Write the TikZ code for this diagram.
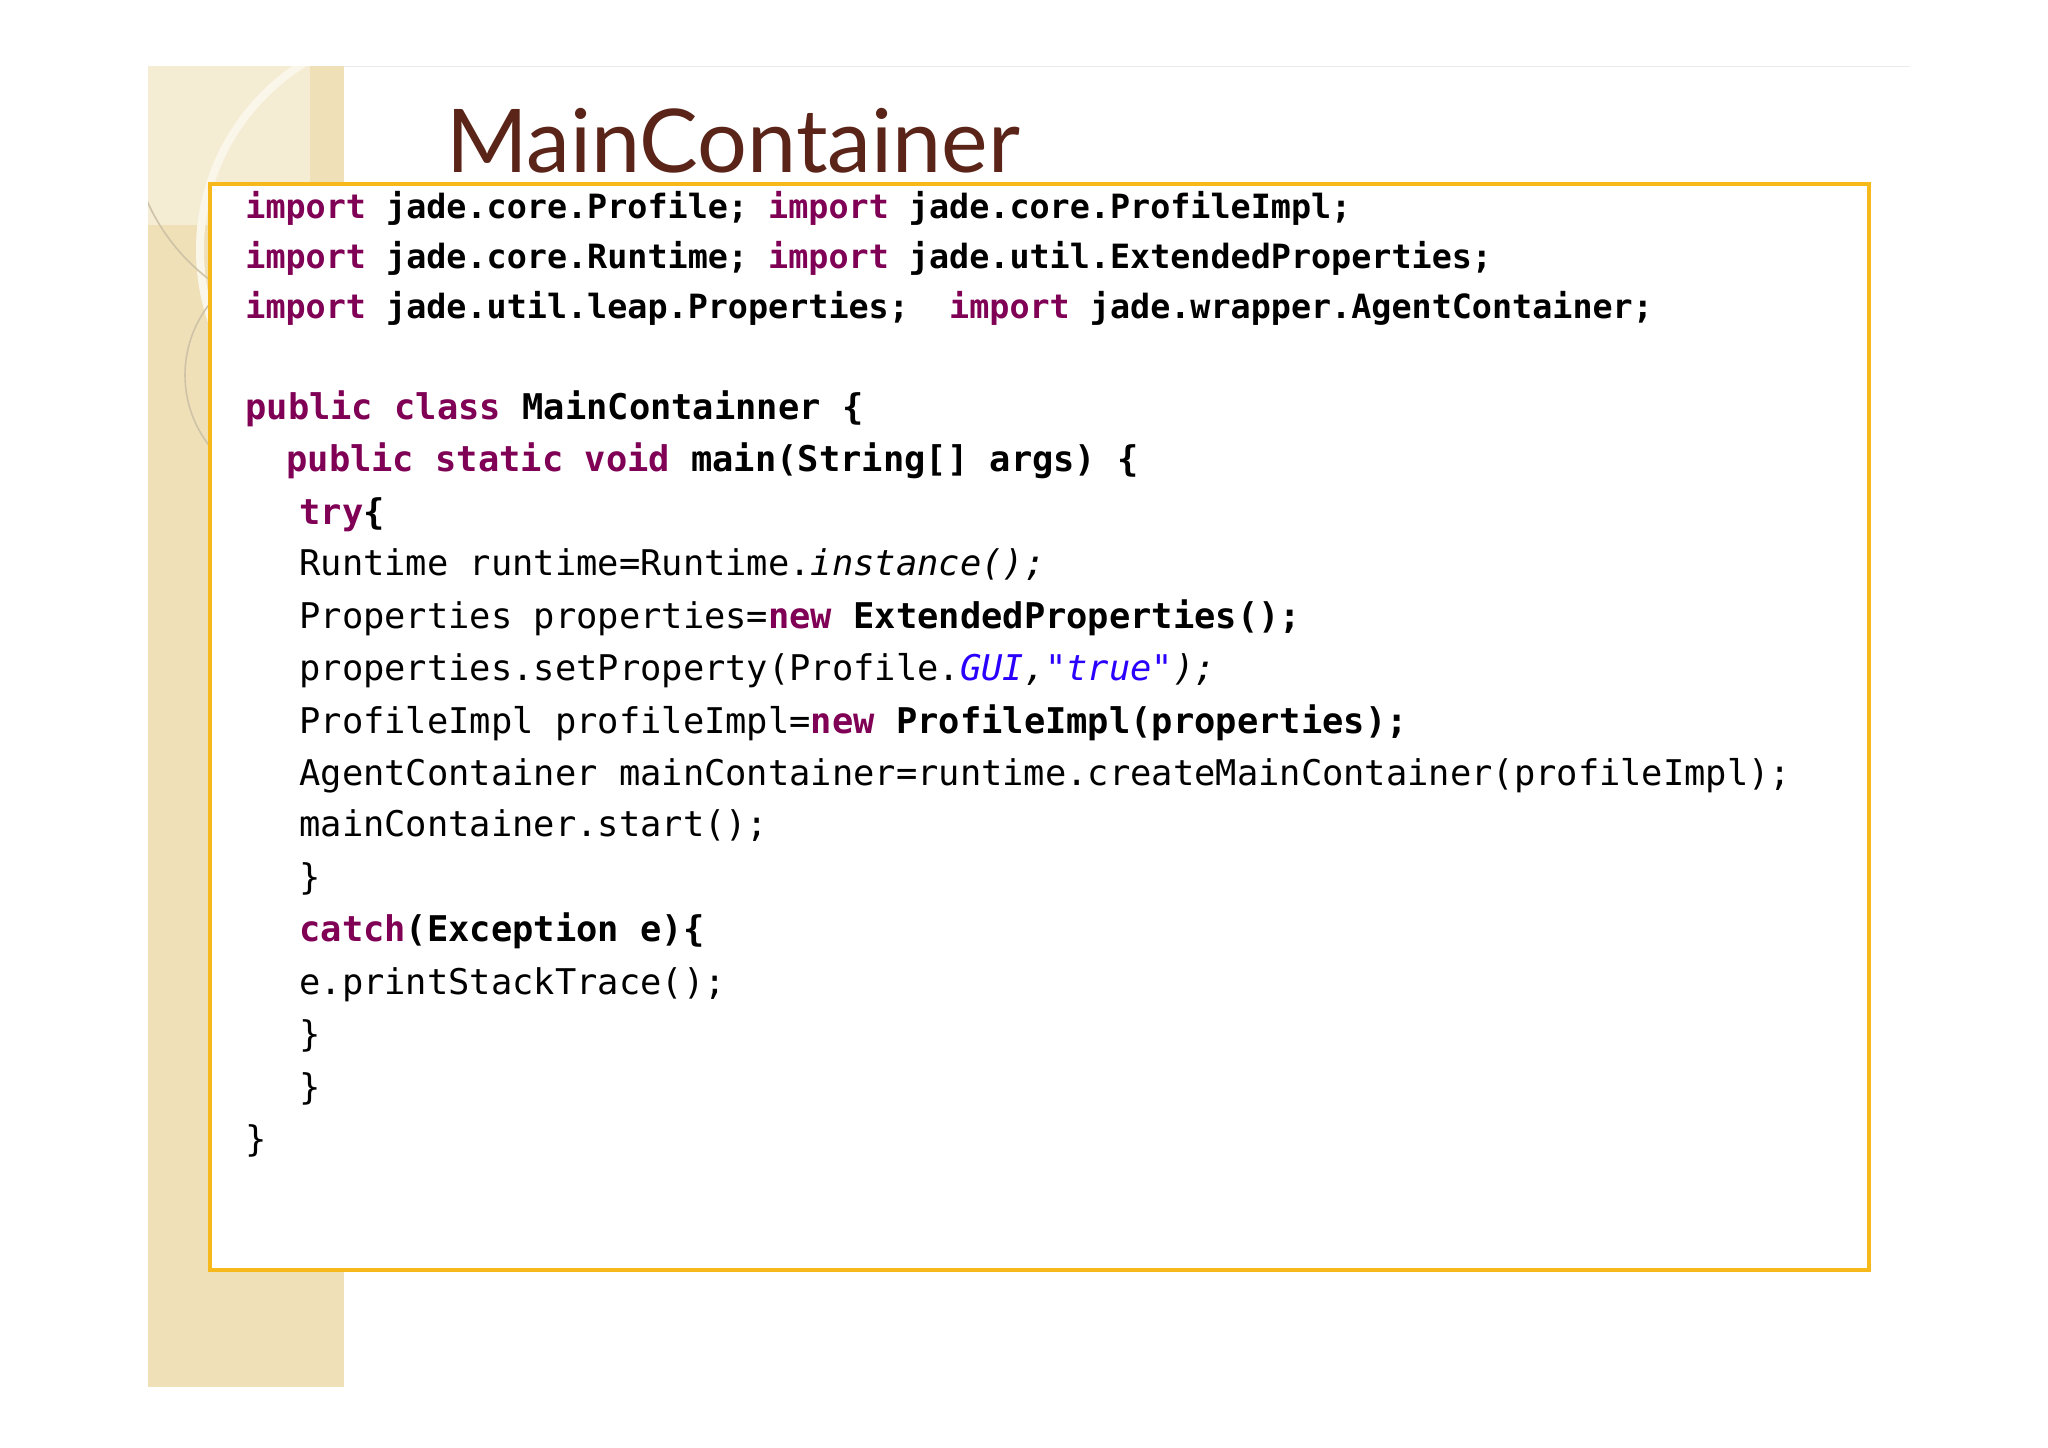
\documentclass[tikz,border=0pt]{standalone}
\usepackage{fontspec}
\setmonofont{DejaVu Sans Mono}
\newfontfamily\titlefont{Lato}
\definecolor{kw}{HTML}{7F0055}
\definecolor{str}{HTML}{2A00FF}
\definecolor{side}{HTML}{EFE0B8}
\definecolor{box}{HTML}{F6B81A}
\definecolor{ttl}{HTML}{5A2418}
\newcommand{\K}[1]{\textcolor{kw}{\textbf{#1}}}
\begin{document}
\begin{tikzpicture}[x=0.5pt,y=-0.5pt,
  code/.style={anchor=base west,inner sep=0pt,font=\ttfamily\fontsize{17.7pt}{19pt}\selectfont},
  imp/.style={code,font=\ttfamily\fontsize{16.7pt}{18pt}\selectfont}]
\useasboundingbox (0,0) rectangle (2048,1447);
\fill[white] (0,0) rectangle (2048,1447);
% sidebar
\fill[side] (148,66) rectangle (344,1387);
\begin{scope}
\clip (148,66) rectangle (344,1387);
\fill[side!60!white] (148,66) rectangle (310,225);
\draw[white!70!side, line width=4pt] (420,250) circle (220);
\draw[side!70!gray, line width=0.8pt] (330,120) circle (200);
\draw[side!70!gray, line width=0.8pt] (300,375) circle (115);
\end{scope}
\draw[gray!15] (344,66) -- (1910,66);
% title
\node[anchor=base west,inner sep=0pt,font=\titlefont\fontsize{44pt}{44pt}\selectfont,text=ttl] (title) at (446,172) {MainContainer};
% box
\draw[box,line width=2pt,fill=white] (210,184) rectangle (1869,1270);
\node[imp] (l1) at (245,218) {\K{import} \textbf{jade.core.Profile;} \K{import} \textbf{jade.core.ProfileImpl;}};
\node[imp] (l2) at (245,268) {\K{import} \textbf{jade.core.Runtime;} \K{import} \textbf{jade.util.ExtendedProperties;}};
\node[imp] (l3) at (245,318) {\K{import} \textbf{jade.util.leap.Properties;}\ \ \K{import} \textbf{jade.wrapper.AgentContainer;}};
\node[code] (l4) at (245,419) {\K{public} \K{class} \textbf{MainContainner \{}};
\node[code] (l5) at (286,471) {\K{public} \K{static} \K{void} \textbf{main(String[] args) \{}};
\node[code] (l6) at (299,524) {\K{try}\textbf{\{}};
\node[code] (l7) at (299,575) {Runtime runtime=Runtime.\textit{instance();}};
\node[code] (l8) at (299,628) {Properties properties=\K{new} \textbf{ExtendedProperties();}};
\node[code] (l9) at (299,680) {properties.setProperty(Profile.\textit{\textcolor{str}{GUI},\textcolor{str}{"true"});}};
\node[code] (l10) at (299,733) {ProfileImpl profileImpl=\K{new} \textbf{ProfileImpl(properties);}};
\node[code] (l11) at (299,785) {AgentContainer mainContainer=runtime.createMainContainer(profileImpl);};
\node[code] (l12) at (299,836) {mainContainer.start();};
\node[code] (l13) at (299,889) {\}};
\node[code] (l14) at (299,941) {\K{catch}\textbf{(Exception e)\{}};
\node[code] (l15) at (299,994) {e.printStackTrace();};
\node[code] (l16) at (299,1046) {\}};
\node[code] (l17) at (299,1099) {\}};
\node[code] (l18) at (245,1151) {\}};
\end{tikzpicture}
\end{document}
